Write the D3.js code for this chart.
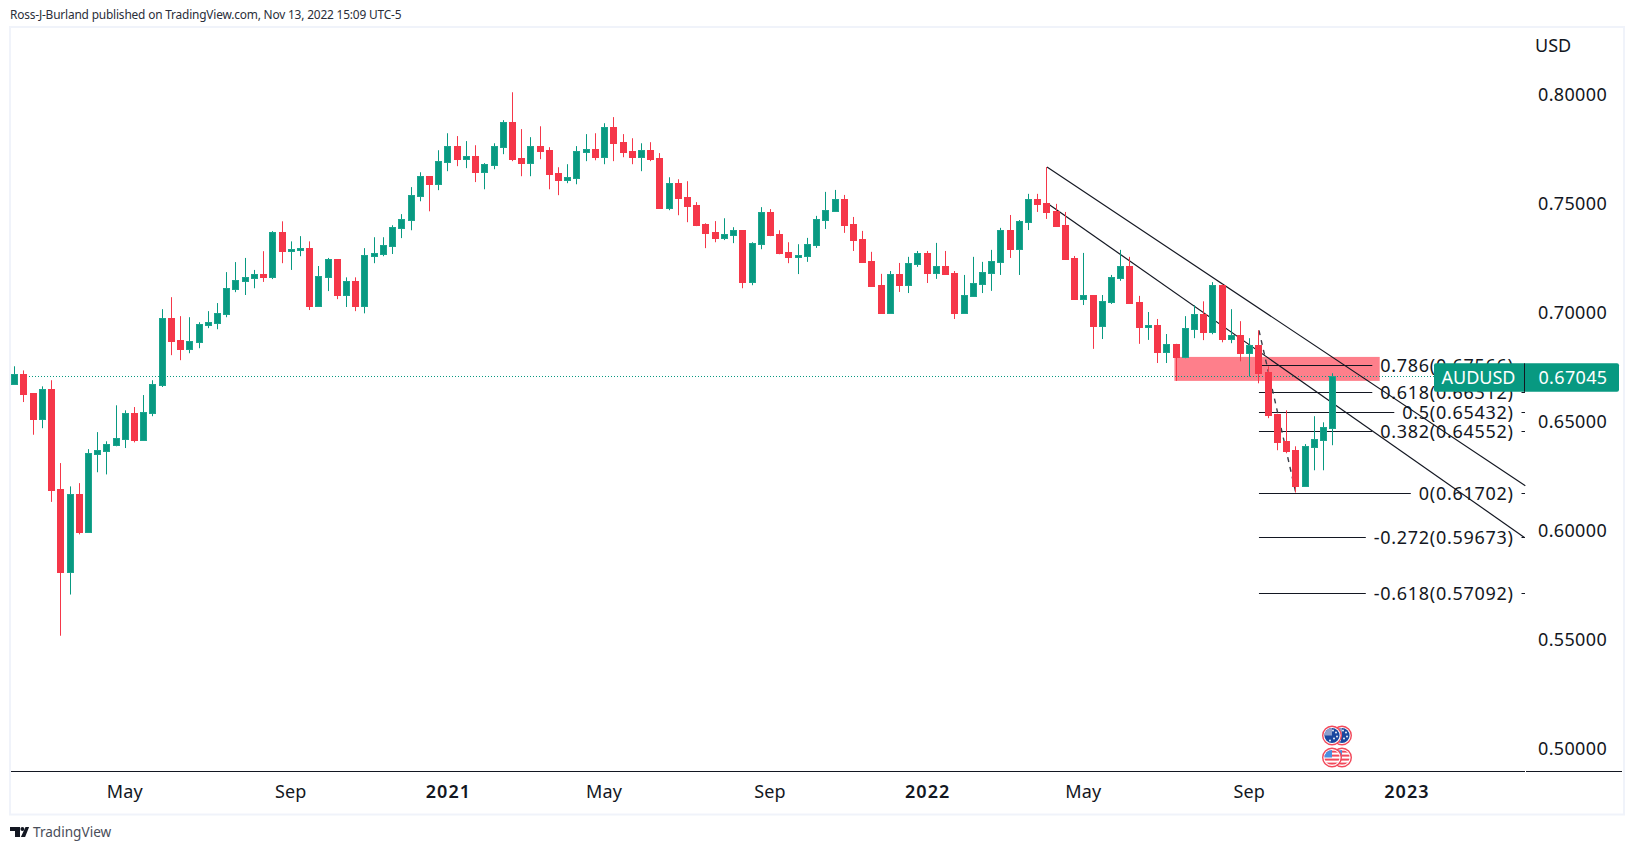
<!DOCTYPE html>
<html>
<head>
<meta charset="utf-8">
<script src="https://cdn.jsdelivr.net/npm/d3@7/dist/d3.min.js"></script>
<style>
html,body{margin:0;padding:0;background:#fff;overflow:hidden}
text{font-family:"Noto Sans",sans-serif;fill:#131722}
</style>
</head>
<body>
<svg id="c" width="1633" height="850"></svg>
<script>
const firstWeek = "2020-02-10";
const opens = [
.6671,.6714,.6627,.6509,.6646,.6187,.5807,.6164,.5990,.6347,.6362,.6389,.6417,.6536,.6412,.6536,.6664,.6973,.6871,.6829,
.6863,.6939,.6949,.6991,.7104,.7141,.7156,.7174,.7159,.7366,.7279,.7284,.7293,.7028,.7159,.7243,.7078,.7141,.7028,.7256,
.7266,.7303,.7385,.7421,.7531,.7623,.7586,.7687,.7761,.7701,.7715,.7641,.7674,.7756,.7871,.7706,.7683,.7761,.7742,.7637,
.7605,.7614,.7733,.7747,.7710,.7848,.7779,.7738,.7710,.7742,.7706,.7476,.7591,.7527,.7490,.7403,.7366,.7339,.7352,.7375,
.7137,.7311,.7458,.7357,.7274,.7251,.7257,.7308,.7422,.7464,.7519,.7404,.7335,.7234,.7124,.6996,.7175,.7124,.7220,.7271,
.7179,.7211,.7179,.6996,.7074,.7129,.7179,.7230,.7376,.7289,.7413,.7519,.7500,.7464,.7399,.7248,.7060,.7078,.6936,.7046,
.7156,.7211,.7046,.6931,.6941,.6817,.6854,.6793,.6921,.6990,.6907,.7123,.6875,.6893,.6811,.6848,.6724,.6531,.6407,.6366,
.6201,.6380,.6412,.6467];
const highs = [
.6751,.6732,.6627,.6659,.6687,.6307,.6200,.6215,.6371,.6449,.6407,.6572,.6549,.6564,.6619,.6687,.7013,.7068,.6981,.6976,
.6953,.7004,.7041,.7183,.7229,.7248,.7193,.7279,.7371,.7416,.7324,.7348,.7324,.7211,.7248,.7243,.7159,.7159,.7293,.7343,
.7343,.7398,.7449,.7573,.7641,.7623,.7742,.7820,.7807,.7784,.7765,.7683,.7774,.7880,.8008,.7839,.7802,.7852,.7756,.7664,
.7678,.7761,.7816,.7820,.7866,.7894,.7816,.7797,.7774,.7779,.7729,.7618,.7609,.7600,.7504,.7407,.7417,.7430,.7389,.7375,
.7320,.7481,.7472,.7375,.7320,.7311,.7340,.7441,.7551,.7560,.7537,.7436,.7372,.7276,.7175,.7188,.7225,.7253,.7280,.7280,
.7317,.7280,.7188,.7170,.7253,.7230,.7285,.7386,.7445,.7422,.7542,.7542,.7665,.7496,.7459,.7257,.7271,.7078,.7078,.7170,
.7285,.7253,.7074,.7000,.6968,.6899,.6854,.6981,.7031,.7049,.7137,.7127,.7013,.6958,.6880,.6916,.6751,.6531,.6549,.6384,
.6394,.6522,.6494,.6719];
const lows = [
.6671,.6587,.6437,.6467,.6129,.5515,.5704,.5980,.5990,.6265,.6255,.6384,.6376,.6402,.6412,.6522,.6656,.6802,.6779,.6811,
.6834,.6926,.6921,.6976,.7091,.7078,.7109,.7138,.7151,.7224,.7193,.7256,.7009,.7028,.7096,.7059,.7023,.7004,.6994,.7224,
.7256,.7266,.7339,.7375,.7508,.7462,.7559,.7646,.7669,.7660,.7596,.7563,.7655,.7724,.7692,.7623,.7623,.7701,.7563,.7536,
.7591,.7586,.7692,.7696,.7678,.7692,.7710,.7678,.7646,.7692,.7476,.7467,.7444,.7412,.7394,.7293,.7320,.7330,.7316,.7109,
.7123,.7288,.7348,.7265,.7224,.7174,.7230,.7294,.7381,.7464,.7363,.7280,.7230,.7115,.6996,.6996,.7092,.7087,.7207,.7133,
.7152,.7175,.6968,.6991,.7069,.7087,.7097,.7170,.7248,.7170,.7376,.7459,.7427,.7395,.7239,.7060,.7032,.6831,.6876,.7037,
.7143,.7042,.6854,.6872,.6766,.6766,.6684,.6788,.6880,.6871,.6898,.6861,.6857,.6774,.6704,.6673,.6513,.6366,.6352,.6172,
.6201,.6274,.6274,.6389];
const closes = [
.6714,.6624,.6509,.6646,.6182,.5807,.6164,.5990,.6352,.6366,.6394,.6421,.6536,.6412,.6541,.6669,.6973,.6866,.6829,.6866,
.6944,.6954,.6994,.7109,.7146,.7159,.7174,.7159,.7366,.7279,.7288,.7293,.7028,.7164,.7243,.7078,.7141,.7028,.7261,.7269,
.7306,.7389,.7426,.7536,.7623,.7586,.7692,.7761,.7701,.7715,.7641,.7678,.7761,.7871,.7701,.7683,.7761,.7738,.7632,.7605,
.7618,.7738,.7747,.7710,.7848,.7774,.7733,.7710,.7742,.7701,.7476,.7591,.7522,.7485,.7398,.7362,.7339,.7357,.7375,.7137,
.7316,.7458,.7352,.7270,.7251,.7261,.7312,.7427,.7468,.7519,.7399,.7331,.7230,.7120,.6996,.7175,.7124,.7225,.7271,.7179,
.7211,.7175,.6996,.7078,.7133,.7184,.7234,.7376,.7289,.7418,.7519,.7496,.7459,.7395,.7243,.7060,.7078,.6936,.7051,.7161,
.7211,.7042,.6931,.6941,.6817,.6854,.6794,.6926,.6990,.6907,.7123,.6875,.6893,.6811,.6848,.6719,.6527,.6403,.6361,.6201,
.6384,.6416,.6471,.67045];

const priceTicks = [0.80,0.75,0.70,0.65,0.60,0.55,0.50];
const timeTickDates = ["2020-05-04","2020-09-07","2021-01-04","2021-05-03","2021-09-06","2022-01-03","2022-05-02","2022-09-05","2023-01-02"];
const timeTickLabels = ["May","Sep","2021","May","Sep","2022","May","Sep","2023"];
const fibLevels = ["0.786","0.618","0.5","0.382","0","-0.272","-0.618"];
const fibPrices = [0.67566,0.66312,0.65432,0.64552,0.61702,0.59673,0.57092];
const fibTexts = ["0.67566","0.66312","0.65432","0.64552","0.61702","0.59673","0.57092"];
const upperTrendWeeks = [112,163.9], upperTrendPrices = [0.7665,0.6203];
const lowerTrendWeeks = [112.3,163.8], lowerTrendPrices = [0.7491,0.5966];
const fibTrendWeeks = [135,139], fibTrendPrices = [0.6916,0.6170];
const zoneWeeks = [126,148.1], zonePrices = [0.6794,0.6684];
const symbol = "AUDUSD", currency = "USD", lastText = "0.67045";
const headerText = "Ross-J-Burland published on TradingView.com, Nov 13, 2022 15:09 UTC-5";

const GREEN="#089981", GREEN_EDGE="#1ba58e", RED="#f53749", INK="#131722", BORDER="#f0f3fa";
const svg = d3.select("#c");
const W=1633,H=850;
svg.append("rect").attr("width",W).attr("height",H).attr("fill","#fff");

const WEEK=7*864e5;
const t0=Date.parse(firstWeek+"T00:00:00Z");
const weekDate=i=>new Date(t0+i*WEEK);
const x=d3.scaleUtc().domain([weekDate(0),weekDate(143)]).range([14.75,1332.7]);
const y=d3.scaleLinear().domain([0.5,0.8]).range([748,94]);
const snap=v=>Math.floor(v);

// frame
svg.append("rect").attr("x",10).attr("y",27).attr("width",1614).attr("height",787.5)
  .attr("fill","none").attr("stroke",BORDER).attr("stroke-width",2);

// header & footer
svg.append("text").attr("x",10).attr("y",19).attr("font-size",11.9).style("letter-spacing","-0.18px").style("fill","#2a2e39").text(headerText);
const foot=svg.append("g");
foot.append("path").attr("d","M10 827h10v10h-5v-6h-5z M25.5 827h3.6l-4 10h-4.2z").attr("fill",INK);
foot.append("circle").attr("cx",22.4).attr("cy",829).attr("r",2).attr("fill",INK);
foot.append("text").attr("x",33).attr("y",837).attr("font-size",13.6).style("fill","#4a4e59").text("TradingView");

const plot=svg.append("g");
const line2=(ws,ps)=>d3.line().x(d=>x(weekDate(d[0]))).y(d=>y(d[1]))(d3.zip(ws,ps));

// pink zone
plot.append("rect")
  .attr("x",x(weekDate(zoneWeeks[0]))-1.6).attr("width",x(weekDate(zoneWeeks[1]))-x(weekDate(zoneWeeks[0]))+1.6)
  .attr("y",y(zonePrices[0])).attr("height",y(zonePrices[1])-y(zonePrices[0]))
  .attr("fill","#fe7f8b");

// last-price dotted line
plot.append("line").attr("x1",11).attr("x2",1434).attr("y1",Math.round(y(closes[closes.length-1]))+0.5).attr("y2",Math.round(y(closes[closes.length-1]))+0.5)
  .attr("stroke",GREEN).attr("stroke-width",1).attr("stroke-dasharray","1 2");

// fib labels + lines
const fibStart=x(weekDate(135));
const fibG=plot.append("g");
const fibText=svg.append("g");
const labelRight=1513.5;
fibLevels.forEach((lv,i)=>{
  const yy=Math.round(y(fibPrices[i]))+0.5;
  const t=fibText.append("text").attr("x",labelRight).attr("y",yy).attr("dy","0.36em").attr("text-anchor","end")
     .attr("font-size",18).style("letter-spacing","0.7px").text(lv+"("+fibTexts[i]+")");
  const w=t.node().getComputedTextLength();
  fibG.append("line").attr("x1",fibStart).attr("x2",labelRight-w-8).attr("y1",yy).attr("y2",yy).attr("stroke",INK).attr("stroke-width",1);
  svg.append("line").attr("x1",1521.5).attr("x2",1525).attr("y1",yy).attr("y2",yy).attr("stroke",INK).attr("stroke-width",1);
});

// trend lines
plot.append("path").attr("d",line2(upperTrendWeeks,upperTrendPrices)).attr("fill","none").attr("stroke",INK).attr("stroke-width",1.2);
plot.append("path").attr("d",line2(lowerTrendWeeks,lowerTrendPrices)).attr("fill","none").attr("stroke",INK).attr("stroke-width",1.2);
plot.append("path").attr("d",line2(fibTrendWeeks,fibTrendPrices)).attr("fill","none").attr("stroke","#3a3d47").attr("stroke-width",1.4).attr("stroke-dasharray","5 5");

// candles
const bars=d3.range(opens.length).map(i=>({i,o:opens[i],h:highs[i],l:lows[i],c:closes[i]}));
const g=plot.append("g").selectAll("g").data(bars).join("g");
const col=d=>d.c>=d.o?GREEN:RED;
g.append("rect").attr("x",d=>snap(x(weekDate(d.i))))
  .attr("width",1).attr("y",d=>y(d.h)).attr("height",d=>Math.max(1,y(d.l)-y(d.h))).attr("fill",col);
g.append("rect").attr("x",d=>snap(x(weekDate(d.i)))-3+0.5)
  .attr("width",6)
  .attr("y",d=>Math.round(y(Math.max(d.o,d.c)))+0.5)
  .attr("height",d=>Math.max(1,Math.round(y(Math.min(d.o,d.c)))-Math.round(y(Math.max(d.o,d.c)))))
  .attr("fill",col).attr("stroke",d=>d.c>=d.o?GREEN_EDGE:RED).attr("stroke-width",1);

// flags
const defs=svg.append("defs");
function flag(cx,cy,kind,id){
  const r=10;
  defs.append("clipPath").attr("id",id).append("circle").attr("cx",cx).attr("cy",cy).attr("r",r-2.4);
  const f=svg.append("g");
  f.append("circle").attr("cx",cx).attr("cy",cy).attr("r",r-0.7).attr("fill","#fff").attr("stroke","#f2495b").attr("stroke-width",1.4);
  const c=f.append("g").attr("clip-path","url(#"+id+")");
  if(kind==="au"){
    c.append("rect").attr("x",cx-r).attr("y",cy-r).attr("width",2*r).attr("height",2*r).attr("fill","#1a479f");
    c.append("rect").attr("x",cx-r).attr("y",cy-r).attr("width",r).attr("height",r).attr("fill","#8f9fcb");
    [[2,3],[4,-3],[-2,5],[1,-5],[5,1]].forEach(p=>c.append("circle").attr("cx",cx+p[0]).attr("cy",cy+p[1]).attr("r",0.9).attr("fill","#fff"));
  } else {
    c.append("rect").attr("x",cx-r).attr("y",cy-r).attr("width",2*r).attr("height",2*r).attr("fill","#fff");
    [-6,-2,2,6].forEach(o=>c.append("rect").attr("x",cx-r).attr("y",cy+o-0.9).attr("width",2*r).attr("height",2).attr("fill","#f2495b"));
    c.append("rect").attr("x",cx-r).attr("y",cy-r).attr("width",r).attr("height",r).attr("fill","#4a8fe0");
  }
}
flag(1342,735.5,"au","fa2");flag(1332,735.5,"au","fa1");
flag(1342,757.5,"us","fu2");flag(1332,757.5,"us","fu1");

// time axis
const timeAxis=d3.axisBottom(x).tickValues(timeTickDates.map(d=>new Date(d+"T00:00:00Z")))
  .tickSize(0).tickPadding(0).tickFormat((d,i)=>timeTickLabels[i]);
const tx=svg.append("g").attr("transform","translate(0,771)").call(timeAxis);
tx.select(".domain").remove();
tx.selectAll("text").attr("font-size",18).attr("y",0).attr("dy","0")
  .attr("transform",(d,i)=>"translate("+(/^20/.test(timeTickLabels[i])?0:-1)+",27)")
  .attr("font-family",null)
  .style("font-family",'"Noto Sans",sans-serif')
  .style("fill",INK)
  .style("letter-spacing",(d,i)=>/^20/.test(timeTickLabels[i])?"1.1px":"0.2px")
  .style("font-weight",(d,i)=>/^20/.test(timeTickLabels[i])?"600":"400");

svg.append("line").attr("x1",11).attr("x2",1525).attr("y1",771.5).attr("y2",771.5).attr("stroke",INK);
svg.append("line").attr("x1",1526).attr("x2",1622).attr("y1",771.5).attr("y2",771.5).attr("stroke",INK);

// price axis
const priceAxis=d3.axisRight(y).tickValues(priceTicks).tickSize(0).tickPadding(0).tickFormat(d=>d.toFixed(5));
const py=svg.append("g").attr("transform","translate(1538,0.5)").call(priceAxis);
py.select(".domain").remove();
py.selectAll("text").attr("font-size",18).attr("font-family",null).style("font-family",'"Noto Sans",sans-serif').style("fill",INK).style("letter-spacing","0.35px");
svg.append("text").attr("x",1535).attr("y",52).attr("font-size",18).text(currency);

// last price badge
const ly=y(closes[closes.length-1]);
svg.append("rect").attr("x",1434).attr("y",ly-13.1).attr("width",185).attr("height",28.5).attr("rx",2).attr("fill",GREEN);
svg.append("line").attr("x1",1524.5).attr("x2",1524.5).attr("y1",ly-13.1).attr("y2",ly+15.4).attr("stroke",INK);
svg.append("text").attr("x",1478.5).attr("y",ly+1).attr("dy","0.36em").attr("text-anchor","middle").attr("font-size",18).style("fill","#fff").text(symbol);
svg.append("text").attr("x",1573).attr("y",ly+1).attr("dy","0.36em").attr("text-anchor","middle").attr("font-size",18).style("letter-spacing","0.35px").style("fill","#fff").text(lastText);
</script>
</body>
</html>
